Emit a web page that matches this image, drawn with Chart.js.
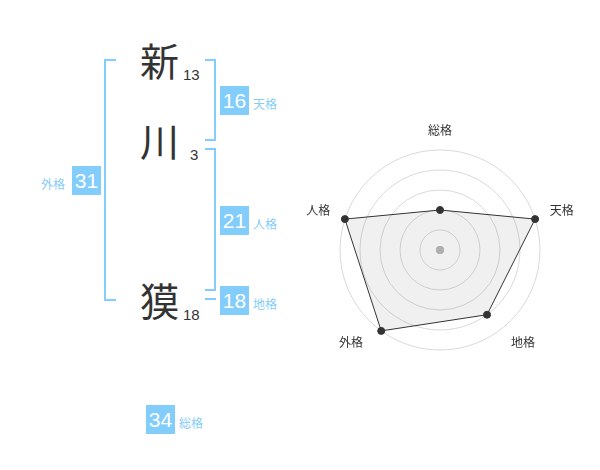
<!DOCTYPE html>
<html>
<head>
<meta charset="utf-8">
<script src="https://cdn.jsdelivr.net/npm/chart.js@4.4.0/dist/chart.umd.min.js"></script>
<style>
  body { margin: 0; background: #fff; width: 600px; height: 470px; position: relative; overflow: hidden; }
  .ch { position: absolute; font-family: "Noto Sans CJK JP", sans-serif; font-size: 39px; color: #333; line-height: 1; }
  .st { position: absolute; font-family: "Liberation Sans", Arial, sans-serif; font-size: 15px; color: #333; line-height: 1; }
  .box { position: absolute; width: 29px; height: 29px; background: #82cdfb; color: #fff;
         font-family: "Liberation Sans", Arial, sans-serif; font-size: 21px; line-height: 29px; text-align: center; }
  .lb { position: absolute; font-family: "Noto Sans CJK JP", sans-serif; font-size: 12px; color: #86cdf7; line-height: 1; }
  .br { position: absolute; border: 0 solid #82cdfb; box-sizing: border-box; }
  #radar { position: absolute; left: 290px; top: 100px; }
</style>
</head>
<body>
<div id="left"></div>
<canvas id="radar" width="300" height="300"></canvas>
<script>
// 名前と画数
var nameChars = ['新', '川', '獏'];
var strokes = [13, 3, 18];

// 五格
var kakuNames = ['総格', '天格', '地格', '外格', '人格'];
var kakuValues = [34, 16, 18, 31, 21];

// レーダーの評価
var radarScores = [2, 5, 4, 5, 5];
var radarMax = 5;

// ラベルの位置調整
var labelPad = [20, 28, 14, 14, 28];
var labelShift = [0, 0, 16, -22, 0];

var left = document.getElementById("left");
function add(cls, text, x, y) {
    var d = document.createElement("div");
    d.className = cls;
    d.textContent = text;
    d.style.left = x + "px";
    d.style.top = y + "px";
    left.appendChild(d);
    return d;
}

// 文字
var charY = [40, 120, 280];
var strokeX = [183, 190, 183];
for (var i = 0; i < nameChars.length; i++) {
    add("ch", nameChars[i], 140, charY[i]);
    add("st", strokes[i], strokeX[i], charY[i] + 27);
}

// 括弧
function bracket(x, y, w, h, side) {
    var d = add("br", "", x, y);
    d.style.width = w + "px";
    d.style.height = h + "px";
    d.style.borderTopWidth = "2px";
    d.style.borderBottomWidth = h > 2 ? "2px" : "0";
    if (side) d.style["border" + side + "Width"] = "2px";
}
bracket(104, 59, 12, 242, "Left");
bracket(205, 59, 11, 82, "Right");
bracket(205, 148, 11, 143, "Right");
bracket(205, 298, 11, 2, null);

// 格の箱
function kaku(name, x, y, labelLeft) {
    var idx = kakuNames.indexOf(name);
    add("box", kakuValues[idx], x, y);
    if (labelLeft) add("lb", name, x - 31, y + 12);
    else add("lb", name, x + 33, y + 12);
}
kaku('天格', 220, 86);
kaku('人格', 220, 206);
kaku('地格', 220, 286);
kaku('外格', 72, 166, true);
kaku('総格', 146, 405);

// 軸ラベルは自前で描く
var kakuLabels = {
    id: 'kakuLabels',
    afterDraw: function(chart) {
        var scale = chart.scales.r;
        var c = chart.ctx;
        c.save();
        c.font = '12px "Noto Sans CJK JP", sans-serif';
        c.fillStyle = '#333';
        c.textAlign = 'center';
        c.textBaseline = 'middle';
        for (var i = 0; i < chart.data.labels.length; i++) {
            var p = scale.getPointPosition(i, scale.drawingArea + labelPad[i]);
            c.fillText(chart.data.labels[i], p.x + labelShift[i], p.y);
        }
        c.restore();
    }
};

// レーダーチャート
var ctx = document.getElementById("radar");
var radarChart = new Chart(ctx, {
    type: 'radar',
    data: {
        labels: kakuNames,
        datasets: [{
            data: radarScores,
            backgroundColor: 'rgba(0, 0, 0, 0.06)',
            borderColor: '#333',
            borderWidth: 1,
            pointBackgroundColor: '#333',
            pointBorderColor: '#333',
            pointRadius: 3.5,
            fill: true
        }, {
            data: [0, 0, 0, 0, 0],
            backgroundColor: 'rgba(0,0,0,0)',
            borderColor: 'rgba(0,0,0,0)',
            pointBackgroundColor: '#bbb',
            pointBorderColor: '#bbb',
            pointRadius: 3.5
        }]
    },
    options: {
        responsive: false,
        animation: false,
        layout: { padding: 50 },
        plugins: { legend: { display: false }, tooltip: { enabled: false } },
        scales: {
            r: {
                min: 0,
                max: radarMax,
                ticks: { stepSize: 1, display: false },
                grid: { circular: true, color: '#d9d9d9' },
                angleLines: { display: false },
                pointLabels: { display: false }
            }
        }
    },
    plugins: [kakuLabels]
});
</script>
</body>
</html>
